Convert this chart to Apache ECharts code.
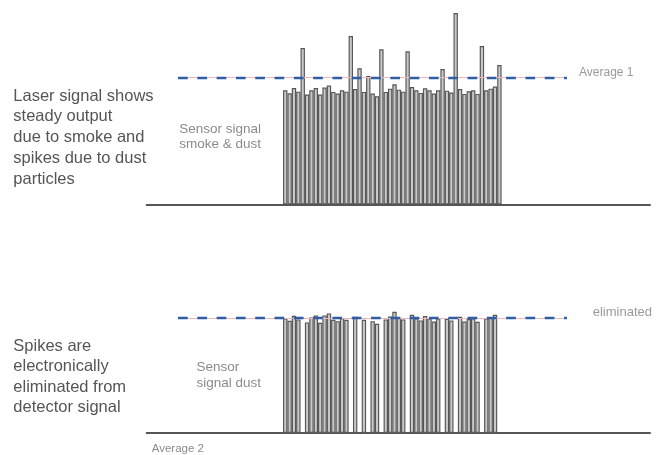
<!DOCTYPE html>
<html>
<head>
<meta charset="utf-8">
<script src="https://cdn.jsdelivr.net/npm/echarts@6/dist/echarts.min.js"></script>
<style>html,body{margin:0;padding:0;background:#fff;}#c{width:666px;height:455px;}</style>
</head>
<body>
<div id="c"></div>
<script>
// sample index (1..50)
var samples = [];
for (var i = 1; i <= 50; i++) samples.push(i);

// Top: sensor signal with smoke & dust (average 1 = 100)
var signalSmokeDust = [89.8, 87.4, 91.6, 88.7, 123.0, 86.4, 89.8, 91.6, 86.4, 91.9,
  93.5, 88.5, 87.2, 89.8, 88.7, 132.5, 90.8, 107.1, 88.5, 101.0,
  87.2, 85.1, 122.0, 88.5, 91.1, 94.5, 90.3, 88.7, 120.4, 92.4,
  89.8, 87.7, 91.4, 89.8, 87.2, 89.8, 106.5, 89.5, 88.0, 150.5,
  90.8, 86.9, 89.0, 89.8, 86.9, 124.6, 89.8, 91.1, 92.7, 109.7];

// Bottom: sensor signal dust, spikes eliminated (null = eliminated) (average 2 = 100)
var signalDust = [99.5, 97.4, 101.7, 98.6, null, 96.0, 100.3, 102.1, 95.7, 102.1,
  103.8, 98.3, 97.1, 99.7, 98.3, null, 100.9, null, 98.3, null,
  97.1, 94.8, null, 98.6, 101.2, 105.2, 100.3, 98.6, null, 102.6,
  99.5, 97.7, 101.5, 99.5, 96.8, 99.5, null, 99.1, 97.7, null,
  100.9, 96.8, 98.9, 99.5, 96.5, null, 99.5, 100.6, 102.6, null];

var average1 = 100;
var average2 = 100;

var topText = 'Laser signal shows\nsteady output\ndue to smoke and\nspikes due to dust\nparticles';
var bottomText = 'Spikes are\nelectronically\neliminated from\ndetector signal';
var label1 = 'Sensor signal\nsmoke & dust';
var label2 = 'Sensor\nsignal dust';
var avg1Label = 'Average 1';
var avg2Label = 'Average 2';
var elimLabel = 'eliminated';

function pairs(vals) {
  return samples.map(function (s, i) { return [s, vals[i] == null ? '-' : vals[i]]; });
}

var XMIN = -30.70, XMAX = 84.46;
var LSTART = -23.53, LEND = 65.45;
var FONT = '"Liberation Sans", Arial, Helvetica, sans-serif';

var barStyle = { color: '#c9c9c9', borderColor: '#565656', borderWidth: 1.15 };

function avgLine(v) {
  return {
    silent: true, symbol: 'none', label: { show: false },
    data: [
      [{ coord: [LSTART, v], lineStyle: { color: '#f3b6b6', width: 1, type: 'solid' } }, { coord: [LEND, v] }],
      [{ coord: [LSTART, v], lineStyle: { color: '#2d5ea6', width: 2.3, type: [9.7, 9.6] } }, { coord: [LEND, v] }]
    ]
  };
}

function xAxis(idx) {
  return {
    type: 'value', gridIndex: idx, min: XMIN, max: XMAX,
    axisLine: { show: true, onZero: false, lineStyle: { color: '#555555', width: 2 } },
    axisTick: { show: false }, axisLabel: { show: false }, splitLine: { show: false }
  };
}
function yAxis(idx) {
  return {
    type: 'value', gridIndex: idx, min: 0, max: 160,
    show: false, splitLine: { show: false }
  };
}

var chart = echarts.init(document.getElementById('c'), null, { renderer: 'canvas' });
chart.setOption({
  animation: false,
  backgroundColor: '#ffffff',
  grid: [
    { left: 146.7, right: 16, top: 1, height: 203.5 },
    { left: 146.7, right: 16, top: 248.8, height: 184 }
  ],
  xAxis: [xAxis(0), xAxis(1)],
  yAxis: [yAxis(0), yAxis(1)],
  series: [
    {
      type: 'bar', xAxisIndex: 0, yAxisIndex: 0, barWidth: 4.37,
      data: pairs(signalSmokeDust), itemStyle: barStyle, markLine: avgLine(average1)
    },
    {
      type: 'bar', xAxisIndex: 1, yAxisIndex: 1, barWidth: 4.37,
      data: pairs(signalDust), itemStyle: barStyle, markLine: avgLine(average2)
    }
  ],
  graphic: [
    { type: 'text', left: 13.3, top: 85.6, style: { text: topText, font: '16.5px ' + FONT, fill: '#555555', lineHeight: 20.8 } },
    { type: 'text', left: 13.3, top: 336.6, style: { text: bottomText, font: '16.5px ' + FONT, fill: '#555555', lineHeight: 20.2 } },
    { type: 'text', left: 179.3, top: 121.3, style: { text: label1, font: '13.5px ' + FONT, fill: '#8a8a8a', lineHeight: 15.3 } },
    { type: 'text', right: 666 - 261, top: 359.3, style: { text: label2, font: '13.5px ' + FONT, fill: '#8a8a8a', lineHeight: 16, align: 'right' } },
    { type: 'text', left: 579, top: 67, style: { text: avg1Label, font: '12px ' + FONT, fill: '#9a9a9a' } },
    { type: 'text', left: 592.7, top: 306, style: { text: elimLabel, font: '13px ' + FONT, fill: '#9a9a9a' } },
    { type: 'text', left: 151.7, top: 442.5, style: { text: avg2Label, font: '11.5px ' + FONT, fill: '#8a8a8a' } }
  ]
});
</script>
</body>
</html>
